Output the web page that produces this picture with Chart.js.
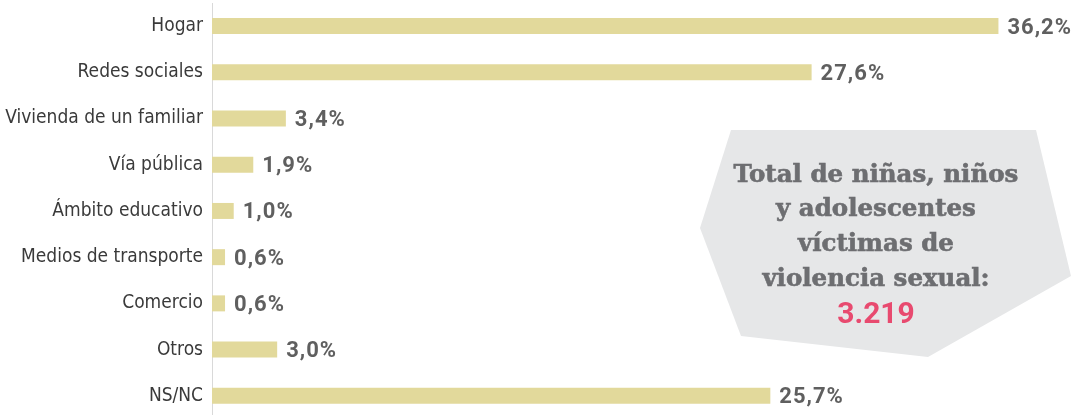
<!DOCTYPE html>
<html>
<head>
<meta charset="utf-8">
<script src="https://cdn.jsdelivr.net/npm/chart.js@4.4.1/dist/chart.umd.min.js"></script>
<style>
  html, body { margin: 0; padding: 0; background: #fff; overflow: hidden; }
  #wrap { position: relative; width: 1081px; height: 419px; }
  #box { position: absolute; left: 0; top: 0; }
</style>
</head>
<body>
<div id="wrap">
  <canvas id="lugarChart"></canvas>
  <svg id="box" width="1081" height="415">
    <polygon points="731,130 1036,130 1071,276 928,357 741,336 700,228" fill="#e6e7e8"/>
    <g font-family="'DejaVu Serif', serif" font-weight="bold" font-size="24.5" fill="#6d6e71" stroke="#6d6e71" stroke-width="0.6" text-anchor="middle">
      <text x="876" y="182">Total de niñas, niños</text>
      <text x="876" y="216">y adolescentes</text>
      <text x="876" y="251">víctimas de</text>
      <text x="876" y="286">violencia sexual:</text>
    </g>
    <text id="total" x="876" y="323" font-family="Roboto, sans-serif" font-weight="bold" font-size="30" fill="#e84a6f" text-anchor="middle"></text>
  </svg>
</div>
<script>
const categories = ['Hogar', 'Redes sociales', 'Vivienda de un familiar', 'Vía pública', 'Ámbito educativo', 'Medios de transporte', 'Comercio', 'Otros', 'NS/NC'];
const percentages = [36.2, 27.6, 3.4, 1.9, 1.0, 0.6, 0.6, 3.0, 25.7];
const totalVictims = '3.219';

document.getElementById('total').textContent = totalVictims;

// value labels drawn at the end of each bar
const valueLabels = {
  id: 'valueLabels',
  afterDatasetsDraw(chart) {
    const ctx = chart.ctx;
    const meta = chart.getDatasetMeta(0);
    ctx.save();
    ctx.font = 'bold 22px Roboto, sans-serif';
    ctx.fillStyle = '#5f5f5f';
    ctx.letterSpacing = '1px';
    ctx.textBaseline = 'middle';
    ctx.textAlign = 'left';
    meta.data.forEach((bar, i) => {
      const txt = percentages[i].toFixed(1).replace('.', ',') + '%';
      ctx.fillText(txt, bar.x + 9, bar.y + 2);
    });
    ctx.restore();
  }
};

new Chart(document.getElementById('lugarChart'), {
  type: 'bar',
  data: {
    labels: categories,
    datasets: [{
      data: percentages,
      backgroundColor: '#e2d99b',
      categoryPercentage: 1,
      barPercentage: 0.346
    }]
  },
  options: {
    indexAxis: 'y',
    responsive: true,
    maintainAspectRatio: false,
    animation: false,
    layout: { padding: { top: 3, right: 0, bottom: 0, left: 0 } },
    plugins: { legend: { display: false }, tooltip: { enabled: false } },
    scales: {
      x: { display: false, min: 0, max: 40 },
      y: {
        afterFit(scale) { scale.width = 212; },
        grid: { display: false, drawTicks: true, tickLength: 9 },
        border: { display: true, color: '#d9d9d9', width: 1 },
        ticks: {
          padding: 0,
          color: '#3a3a3a',
          font: { family: "'DejaVu Sans Condensed', sans-serif", size: 19, lineHeight: 0.01 }
        }
      }
    }
  },
  plugins: [valueLabels]
});
</script>
</body>
</html>
